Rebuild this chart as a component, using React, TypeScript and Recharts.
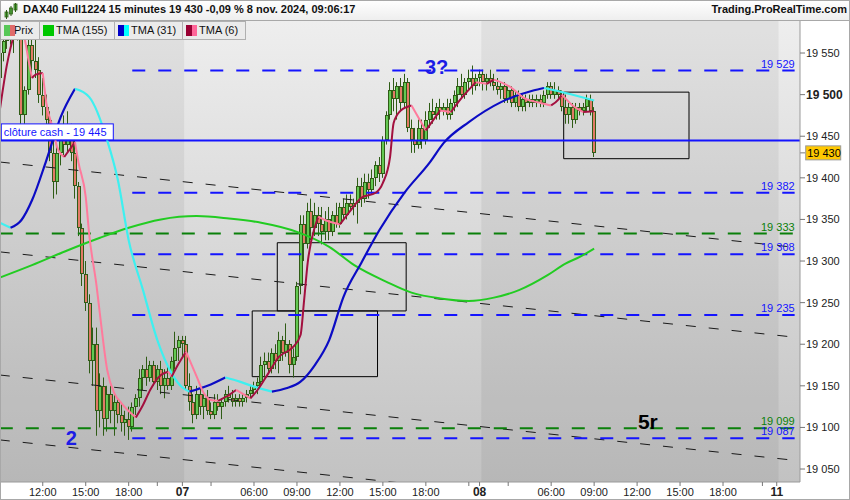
import {
  ComposedChart, Bar, Line, XAxis, YAxis, CartesianGrid,
  ReferenceLine, ReferenceArea, ReferenceDot,
} from "recharts";

const FONT = "'Liberation Sans', Arial, sans-serif";
const Y_MIN = 19034.4;
const Y_MAX = 19588.5;
const SLOTS = 224; // 15-min slots on screen, incl. the empty space on the right

// DAX40 15-min candles, 6 nov 09:00 -> 8 nov 09:00 (session 01:15-22:00)
const OPEN = [
  19520, 19550, 19565, 19580, 19570, 19585, 19570, 19475, 19505, 19560,
  19540, 19530, 19500, 19485, 19470, 19430, 19395, 19430, 19450, 19440,
  19460, 19430, 19390, 19340, 19285, 19250, 19180, 19200, 19120, 19150,
  19110, 19140, 19120, 19130, 19115, 19105, 19110, 19100, 19125, 19135,
  19160, 19170, 19160, 19175, 19155, 19170, 19150, 19160, 19150, 19180,
  19195, 19205, 19200, 19150, 19130, 19115, 19140, 19125, 19135, 19120,
  19115, 19130, 19125, 19130, 19140, 19135, 19130, 19135, 19130, 19135,
  19140, 19145, 19150, 19155, 19175, 19180, 19170, 19190, 19180, 19205,
  19190, 19200, 19175, 19185, 19270, 19345, 19320, 19360, 19340, 19355,
  19345, 19335, 19350, 19335, 19355, 19345, 19365, 19355, 19370, 19365,
  19370, 19390, 19375, 19395, 19385, 19400, 19415, 19405, 19445, 19475,
  19505, 19495, 19510, 19490, 19515, 19460, 19445, 19440, 19460, 19445,
  19470, 19480, 19475, 19485, 19480, 19485, 19475, 19490, 19500, 19510,
  19500, 19515, 19520, 19510, 19520, 19525, 19515, 19520, 19515, 19510,
  19505, 19510, 19495, 19505, 19490, 19500, 19485, 19495, 19490, 19495,
  19490, 19495, 19490, 19500, 19510, 19500, 19505, 19500, 19485, 19475,
  19485, 19470, 19485, 19480, 19485, 19495, 19480,
];
const HIGH = [
  19560, 19575, 19590, 19595, 19590, 19600, 19585, 19510, 19570, 19575,
  19570, 19545, 19520, 19500, 19480, 19445, 19440, 19460, 19475, 19480,
  19465, 19450, 19395, 19345, 19300, 19260, 19220, 19220, 19165, 19160,
  19150, 19150, 19140, 19135, 19130, 19120, 19125, 19130, 19140, 19170,
  19175, 19185, 19180, 19180, 19175, 19180, 19170, 19175, 19185, 19215,
  19210, 19210, 19210, 19165, 19140, 19150, 19150, 19140, 19145, 19130,
  19140, 19140, 19135, 19145, 19150, 19145, 19140, 19140, 19140, 19145,
  19150, 19155, 19160, 19185, 19190, 19190, 19195, 19200, 19215, 19210,
  19225, 19205, 19195, 19275, 19355, 19355, 19370, 19375, 19370, 19365,
  19365, 19360, 19365, 19360, 19370, 19370, 19375, 19380, 19380, 19375,
  19400, 19400, 19405, 19405, 19410, 19420, 19425, 19450, 19480, 19515,
  19520, 19515, 19520, 19525, 19520, 19470, 19460, 19470, 19470, 19480,
  19490, 19495, 19490, 19495, 19490, 19495, 19495, 19505, 19520, 19525,
  19520, 19530, 19535, 19525, 19530, 19530, 19525, 19530, 19525, 19520,
  19515, 19515, 19510, 19510, 19505, 19505, 19500, 19500, 19500, 19500,
  19500, 19500, 19505, 19515, 19515, 19515, 19510, 19505, 19500, 19490,
  19490, 19490, 19490, 19490, 19500, 19500, 19485,
];
const LOW = [
  19505, 19540, 19555, 19560, 19550, 19565, 19465, 19465, 19500, 19525,
  19520, 19490, 19475, 19460, 19420, 19375, 19380, 19415, 19425, 19430,
  19420, 19375, 19330, 19270, 19240, 19165, 19150, 19090, 19100, 19090,
  19095, 19105, 19090, 19105, 19095, 19090, 19085, 19095, 19115, 19125,
  19145, 19150, 19155, 19150, 19145, 19140, 19135, 19145, 19145, 19170,
  19180, 19185, 19145, 19120, 19105, 19110, 19115, 19110, 19115, 19110,
  19110, 19120, 19110, 19125, 19130, 19125, 19125, 19125, 19125, 19130,
  19135, 19140, 19140, 19150, 19160, 19165, 19165, 19170, 19165, 19180,
  19185, 19165, 19160, 19180, 19260, 19300, 19315, 19325, 19330, 19330,
  19320, 19325, 19325, 19330, 19340, 19340, 19350, 19350, 19360, 19355,
  19345, 19365, 19370, 19375, 19380, 19390, 19395, 19400, 19440, 19470,
  19480, 19470, 19480, 19485, 19455, 19430, 19430, 19435, 19435, 19440,
  19460, 19465, 19470, 19470, 19475, 19470, 19470, 19480, 19485, 19495,
  19495, 19505, 19500, 19505, 19510, 19505, 19505, 19510, 19505, 19500,
  19495, 19490, 19490, 19485, 19485, 19480, 19480, 19480, 19485, 19485,
  19485, 19485, 19485, 19495, 19495, 19495, 19495, 19480, 19465, 19465,
  19460, 19465, 19475, 19475, 19480, 19475, 19425,
];
const CLOSE = [
  19550, 19565, 19580, 19570, 19585, 19570, 19475, 19505, 19560, 19540,
  19530, 19500, 19485, 19470, 19430, 19395, 19430, 19450, 19440, 19460,
  19430, 19390, 19340, 19285, 19250, 19180, 19200, 19120, 19150, 19110,
  19140, 19120, 19130, 19115, 19105, 19110, 19100, 19125, 19135, 19160,
  19170, 19160, 19175, 19155, 19170, 19150, 19160, 19150, 19180, 19195,
  19205, 19200, 19150, 19130, 19115, 19140, 19125, 19135, 19120, 19115,
  19130, 19125, 19130, 19140, 19135, 19130, 19135, 19130, 19135, 19140,
  19145, 19150, 19155, 19175, 19180, 19170, 19190, 19180, 19205, 19190,
  19200, 19175, 19185, 19270, 19345, 19320, 19360, 19340, 19355, 19345,
  19335, 19350, 19335, 19355, 19345, 19365, 19355, 19370, 19365, 19370,
  19390, 19375, 19395, 19385, 19400, 19415, 19405, 19445, 19475, 19505,
  19495, 19510, 19490, 19515, 19460, 19445, 19440, 19460, 19445, 19470,
  19480, 19475, 19485, 19480, 19485, 19475, 19490, 19500, 19510, 19500,
  19515, 19520, 19510, 19520, 19525, 19515, 19520, 19515, 19510, 19505,
  19510, 19495, 19505, 19490, 19500, 19485, 19495, 19490, 19495, 19490,
  19495, 19490, 19500, 19510, 19500, 19505, 19500, 19485, 19475, 19485,
  19470, 19485, 19480, 19485, 19495, 19480, 19430,
];

// moving averages: [slot, value]
const TMA155 = [
  [0, 19280], [9, 19295], [19, 19313], [28, 19328], [36, 19340], [45, 19350],
  [55, 19354], [64, 19351], [73, 19346], [83, 19335], [92, 19317], [99, 19295],
  [108, 19275], [115, 19262], [123, 19255], [131, 19252], [138, 19256],
  [145, 19265], [153, 19283], [158, 19297], [162, 19305], [166, 19315],
];
const TMA31 = [
  [0, 19346], [3, 19340], [6, 19349], [9, 19373], [13, 19421], [17, 19473],
  [21, 19507], [25, 19497], [30, 19445], [33, 19397], [36, 19325], [40, 19265],
  [44, 19205], [48, 19165], [51, 19148], [53, 19143], [58, 19150], [63, 19160],
  [67, 19155], [71, 19149], [76, 19143], [80, 19147], [84, 19155], [88, 19175],
  [92, 19205], [96, 19257], [101, 19298], [106, 19337], [113, 19382],
  [120, 19418], [124, 19442], [131, 19467], [140, 19491], [149, 19505],
  [152, 19508], [158, 19502], [166, 19493],
];
const TMA6 = [
  [0, 19481], [2, 19536], [4, 19572], [5, 19584], [7, 19566], [8, 19542],
  [9, 19520], [10, 19524], [12, 19526], [13, 19490], [15, 19457], [16, 19437],
  [18, 19425], [20, 19437], [21, 19443], [22, 19418], [24, 19377], [25, 19331],
  [27, 19271], [28, 19235], [30, 19169], [32, 19141], [34, 19129], [38, 19112],
  [40, 19127], [42, 19145], [45, 19163], [47, 19167], [48, 19161], [50, 19177],
  [52, 19191], [55, 19161], [57, 19141], [59, 19133], [61, 19132], [64, 19139],
  [66, 19145], [68, 19140], [70, 19135], [72, 19145], [75, 19165], [78, 19185],
  [82, 19197], [84, 19211], [85, 19253], [86, 19298], [88, 19341], [89, 19353],
  [91, 19349], [95, 19344], [98, 19361], [101, 19376], [105, 19382],
  [107, 19394], [109, 19425], [110, 19466], [112, 19481], [115, 19487],
  [117, 19472], [119, 19457], [121, 19469], [123, 19481], [126, 19479],
  [129, 19496], [133, 19515], [136, 19513], [138, 19518], [143, 19508],
  [146, 19497], [151, 19490], [154, 19487], [156, 19494], [157, 19500],
  [160, 19487], [163, 19479], [166, 19480],
];

const Y_TICKS = [19050, 19100, 19150, 19200, 19250, 19300, 19350, 19400, 19450, 19500, 19550];
const X_TICK_IDX = [12, 24, 36, 44, 51, 59, 71, 83, 95, 107, 119, 131, 134, 142, 154, 166, 178, 190, 202, 213, 217];
const X_TICK_TXT = ["12:00", "15:00", "18:00", "", "07", "", "06:00", "09:00", "12:00", "15:00", "18:00", "", "08", "", "06:00", "09:00", "12:00", "15:00", "18:00", "", "11"];
const DAY_TXT = ["07", "08", "11"];

const BLUE_LEVELS = [19529, 19382, 19308, 19235, 19087];
const GREEN_LEVELS = [19333, 19099];
const CASH_CLOSE = 19445;
const LAST = 19430;
// trend lines: value at first slot and at last slot
const TRENDS = [[19419, 19316], [19311, 19208], [19163, 19060], [19085, 18982]];
// drawn boxes: [slot1, slot2, low, high]
const BOXES = [[71, 105, 19161, 19240], [78, 113, 19240, 19322], [158, 192, 19423, 19503]];
const DARK_DAYS = [[0, 51], [135, 217]];

const WICK = "#2f5c16";
const UP = "#63c852";
const DOWN = "#e27a66";
const BLUE = "#1414ff";
const GREEN_LVL = "#0a800a";

const fmt = (v: number) => String(v).replace(/\B(?=(\d{3})+$)/g, " ");

function splitRuns(pts: number[][]) {
  const runs: { up: boolean; pts: number[][] }[] = [];
  for (let k = 1; k < pts.length; k++) {
    const up = pts[k][1] >= pts[k - 1][1];
    const last = runs[runs.length - 1];
    if (last && last.up === up) last.pts.push(pts[k]);
    else runs.push({ up, pts: [pts[k - 1], pts[k]] });
  }
  return runs;
}

const rows: any[] = Array.from({ length: SLOTS }, (_, i) => ({ i }));
OPEN.forEach((o, i) => Object.assign(rows[i], { o, h: HIGH[i], l: LOW[i], c: CLOSE[i] }));
TMA155.forEach(([i, v]) => (rows[i].m155 = v));
const addRuns = (pts: number[][], prefix: string) =>
  splitRuns(pts).map((r, k) => {
    r.pts.forEach(([i, v]) => (rows[i][prefix + k] = v));
    return { key: prefix + k, up: r.up };
  });
const runs31 = addRuns(TMA31, "a");
const runs6 = addRuns(TMA6, "b");

const Candle = (p: any) => {
  const { x, y, width, height, payload } = p;
  if (payload?.o == null || !isFinite(y) || !isFinite(height)) return null;
  const { o, h, l, c } = payload;
  const top = Math.min(y, y + height);
  const bot = Math.max(y, y + height);
  const k = h > l ? (bot - top) / (h - l) : 0;
  const yo = top + (h - o) * k;
  const yc = top + (h - c) * k;
  const cx = Math.round(x + width / 2);
  const bt = Math.round(Math.min(yo, yc));
  const bb = Math.max(Math.round(Math.max(yo, yc)), bt + 1);
  return (
    <g>
      <rect x={cx - 1} y={top} width={1} height={bot - top} fill={WICK} />
      <rect x={cx - 2} y={bt} width={4} height={bb - bt} fill={WICK} />
      {bb - bt > 2 && <rect x={cx - 1} y={bt + 1} width={2} height={bb - bt - 2} fill={c >= o ? UP : DOWN} />}
    </g>
  );
};

const XTick = ({ x, y, payload }: any) => {
  const t = X_TICK_TXT[X_TICK_IDX.indexOf(payload.value)] ?? "";
  const day = DAY_TXT.includes(t);
  return (
    <text x={x} y={y + 8} textAnchor="middle" fill="#222" fontFamily={FONT}
      fontSize={day ? 12 : 11} fontWeight={day ? "bold" : "normal"}>{t}</text>
  );
};

const YTick = ({ x, y, payload }: any) => {
  const big = payload.value === 19500;
  return (
    <text x={x} y={y + 4} fill="#222" fontFamily={FONT}
      fontSize={big ? 12 : 11} fontWeight={big ? "bold" : "normal"}>{fmt(payload.value)}</text>
  );
};

const levelTag = (text: string, color: string) => (p: any) => (
  <text x={p.cx} y={p.cy - 3} textAnchor="end" fill={color} fontSize={11} fontFamily={FONT}>{text}</text>
);

const bigText = (text: string, color: string, size: number) => (p: any) => (
  <text x={p.cx} y={p.cy} textAnchor="middle" fill={color} fontSize={size} fontWeight="bold" fontFamily={FONT}>{text}</text>
);

const cashTag = (p: any) => (
  <g>
    <rect x={p.cx + 1.5} y={p.cy - 16.5} width={112} height={16} fill="#fff" stroke={BLUE} strokeWidth={1} />
    <text x={p.cx + 4} y={p.cy - 4} fill={BLUE} fontSize={11} fontFamily={FONT}>{`clôture cash -  ${fmt(CASH_CLOSE)}`}</text>
  </g>
);

const lastTag = (p: any) => (
  <g>
    <line x1={p.cx + 2} x2={p.cx + 7} y1={p.cy} y2={p.cy} stroke="#777" />
    <rect x={p.cx + 7.5} y={p.cy - 7} width={35} height={14} fill="#ffc800" stroke="#9a9a9a" />
    <text x={p.cx + 9} y={p.cy + 4} fill="#000" fontSize={11} fontFamily={FONT}>{fmt(LAST)}</text>
  </g>
);

const LEGEND = [
  { label: "Prix", w: 39, colors: ["#58c858", "#e06a6a"], tx: 13 },
  { label: "TMA (155)", w: 75, colors: ["#00c800"], tx: 16 },
  { label: "TMA (31)", w: 68, colors: ["#0000c8", "#00ffff"], tx: 16 },
  { label: "TMA (6)", w: 63, colors: ["#990033", "#ff6699"], tx: 16 },
];

export default function App() {
  return (
    <div style={{ position: "relative", width: 850, height: 500, background: "#fff", overflow: "hidden", fontFamily: FONT }}>
      <style>{"body{margin:0}"}</style>
      <ComposedChart width={850} height={500} data={rows} margin={{ top: 21, right: 0, bottom: 0, left: -2 }}
        barCategoryGap={0} barGap={0}>
        <defs>
          <linearGradient id="plotBg" x1="0" y1="0" x2="0" y2="1">
            <stop offset="0" stopColor="#eeeeee" />
            <stop offset="1" stopColor="#c2c2c2" />
          </linearGradient>
        </defs>
        <CartesianGrid horizontal={false} vertical={false} fill="url(#plotBg)" fillOpacity={1} />
        <XAxis dataKey="i" type="category" ticks={X_TICK_IDX} interval={0} tick={<XTick />}
          tickSize={4} tickLine={{ stroke: "#777" }} axisLine={{ stroke: "#9a9a9a" }} height={18} />
        <YAxis orientation="right" type="number" width={50} domain={[Y_MIN, Y_MAX]} allowDataOverflow
          ticks={Y_TICKS} interval={0} tick={<YTick />} tickSize={5} tickMargin={1}
          tickLine={{ stroke: "#777" }} axisLine={{ stroke: "#9a9a9a" }} />

        {DARK_DAYS.map(([a, b]) => (
          <ReferenceArea key={"d" + a} x1={a} x2={b} y1={Y_MIN} y2={Y_MAX} fill="#000" fillOpacity={0.055}
            stroke="none" ifOverflow="visible" />
        ))}

        {TRENDS.map(([a, b], k) => (
          <ReferenceLine key={"t" + k} segment={[{ x: 0, y: a }, { x: SLOTS - 1, y: b }]} stroke="#1a1a1a"
            strokeWidth={1} strokeDasharray="10 13" ifOverflow="hidden" />
        ))}
        {GREEN_LEVELS.map((v) => (
          <ReferenceLine key={"g" + v} segment={[{ x: 0, y: v }, { x: 222, y: v }]} stroke={GREEN_LVL}
            strokeWidth={2} strokeDasharray="13 13" />
        ))}
        {BLUE_LEVELS.map((v) => (
          <ReferenceLine key={"b" + v} segment={[{ x: 37, y: v }, { x: 222, y: v }]} stroke={BLUE}
            strokeWidth={2} strokeDasharray="13 13" />
        ))}
        <ReferenceLine y={CASH_CLOSE} stroke={BLUE} strokeWidth={2} />

        <Bar dataKey={(d: any) => (d.o == null ? null : [d.l, d.h])} shape={Candle} isAnimationActive={false} />

        <Line dataKey="m155" stroke="#22cc22" strokeWidth={2} dot={false} connectNulls type="monotone" isAnimationActive={false} />
        {runs31.map((r) => (
          <Line key={r.key} dataKey={r.key} stroke={r.up ? "#0c0cc4" : "#3ef0f0"} strokeWidth={2.2} dot={false}
            connectNulls type="monotone" isAnimationActive={false} />
        ))}
        {runs6.map((r) => (
          <Line key={r.key} dataKey={r.key} stroke={r.up ? "#a3103f" : "#ff7a9c"} strokeWidth={2} dot={false}
            connectNulls type="monotone" isAnimationActive={false} />
        ))}

        {BOXES.map(([a, b, lo, hi], k) => (
          <ReferenceArea key={"r" + k} x1={a} x2={b} y1={lo} y2={hi} fill="none" stroke="#000" strokeWidth={1} />
        ))}

        {BLUE_LEVELS.map((v) => (
          <ReferenceDot key={"bt" + v} x={222} y={v} r={0} shape={levelTag(fmt(v), BLUE)} />
        ))}
        {GREEN_LEVELS.map((v) => (
          <ReferenceDot key={"gt" + v} x={222} y={v} r={0} shape={levelTag(fmt(v), GREEN_LVL)} />
        ))}
        <ReferenceDot x={0} y={CASH_CLOSE} r={0} shape={cashTag} />
        <ReferenceDot x={122} y={19525} r={0} shape={bigText("3?", "#1c1ce6", 20)} />
        <ReferenceDot x={20} y={19079} r={0} shape={bigText("2", "#1c1ce6", 20)} />
        <ReferenceDot x={181} y={19098} r={0} shape={bigText("5r", "#000", 21)} />
        <ReferenceDot x={SLOTS - 1} y={LAST} r={0} shape={lastTag} />
      </ComposedChart>

      <div style={{ position: "absolute", left: 0, top: 0, width: 850, height: 21, boxSizing: "border-box",
        background: "linear-gradient(#ffffff, #eeeeee)", borderBottom: "1px solid #a8a8a8" }}>
        <svg width={14} height={16} style={{ position: "absolute", left: 4, top: 3 }}>
          <rect x={1} y={9} width={3} height={5} fill="#5cc84c" stroke="#2f5c16" strokeWidth={0.8} />
          <line x1={2.5} y1={7} x2={2.5} y2={16} stroke="#2f5c16" />
          <rect x={5.5} y={5} width={3} height={6} fill="#5cc84c" stroke="#2f5c16" strokeWidth={0.8} />
          <line x1={7} y1={3} x2={7} y2={13} stroke="#2f5c16" />
          <rect x={10} y={1} width={3} height={6} fill="#5cc84c" stroke="#2f5c16" strokeWidth={0.8} />
          <line x1={11.5} y1={0} x2={11.5} y2={9} stroke="#2f5c16" />
        </svg>
        <div style={{ position: "absolute", left: 23, top: 3, fontSize: 11, fontWeight: "bold", color: "#111", whiteSpace: "nowrap" }}>
          DAX40 Full1224 15 minutes 19 430 -0,09 % 8 nov. 2024, 09:06:17
        </div>
        <div style={{ position: "absolute", right: 3, top: 3, fontSize: 11, fontWeight: "bold", color: "#111" }}>
          Trading.ProRealTime.com
        </div>
      </div>

      <div style={{ position: "absolute", left: 1, top: 21, height: 19, display: "flex" }}>
        {LEGEND.map((it) => (
          <div key={it.label} style={{ position: "relative", width: it.w, height: 19, boxSizing: "border-box",
            background: "#ebebeb", border: "1px solid #b0b0b0", borderLeft: "none", fontSize: 11, color: "#111" }}>
            <div style={{ position: "absolute", left: it.tx, top: 0, lineHeight: "17px", whiteSpace: "nowrap" }}>{it.label}</div>
            <div style={{ position: "absolute", left: 3, top: 3, width: 11, height: 11, display: "flex" }}>
              {it.colors.map((c) => <div key={c} style={{ flex: 1, background: c }} />)}
            </div>
          </div>
        ))}
      </div>

      <div style={{ position: "absolute", inset: 0, border: "1px solid #a8a8a8", pointerEvents: "none" }} />
    </div>
  );
}
